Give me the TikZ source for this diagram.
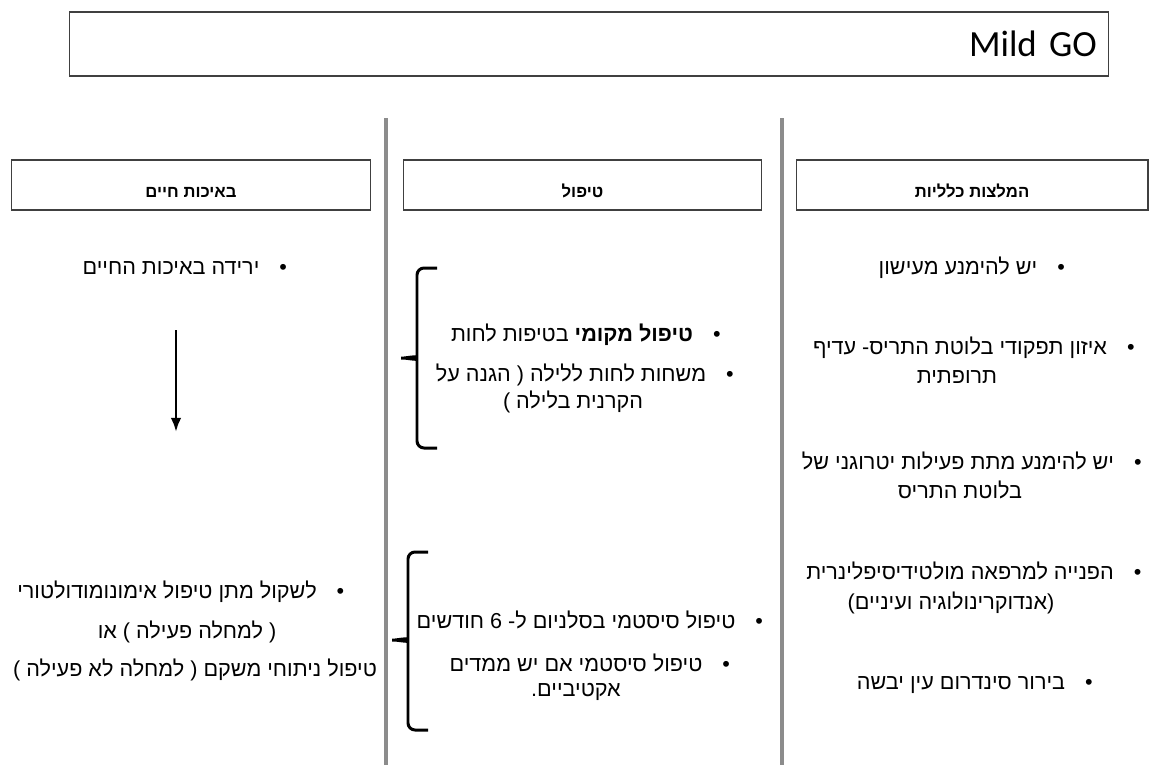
\documentclass[tikz,border=0pt]{standalone}
\usepackage{fontspec}
\setmainfont{Carlito}
\newfontfamily\hebfont[Script=Hebrew]{Liberation Sans}
\TeXXeTstate=1
\usetikzlibrary{positioning,arrows.meta}
\newcommand{\heb}[1]{\beginR #1\endR}

\tikzset{
  headbox/.style={draw=black!75, line width=0.6pt, minimum width=#1, minimum height=1cm,
    inner sep=0pt, text height=15pt, text depth=1pt,
    font=\hebfont\fontsize{9.5}{11}\selectfont\bfseries},
  item/.style={anchor=base, inner sep=0pt, font=\hebfont\fontsize{12.3}{15}\selectfont},
  dot/.style={anchor=base west, inner sep=0pt, font=\hebfont\fontsize{12.3}{15}\selectfont},
  brace/.style={line width=1.7pt, rounded corners=4pt},
  divider/.style={draw=black!45, line width=1.8pt},
}

\begin{document}
\begin{tikzpicture}[x=0.02cm, y=-0.02cm]
\useasboundingbox (0,0) rectangle (1150,765);

% title
\node[draw=black!75, line width=0.6pt, minimum width=20.8cm, minimum height=1.28cm,
  text width=20.32cm, align=right, inner xsep=0.24cm, font=\fontsize{21}{24}\selectfont]
  (title) at (589,44) {Mild GO};

% columns
\draw[divider] (386,118) -- (386,765);
\draw[divider] (782,118) -- (782,765);

\node[headbox=7.2cm] (hleft) at (191,185) {\heb{באיכות חיים}};
\node[headbox=7.18cm] (hmid) at (582.5,185) {\heb{טיפול}};
\node[headbox=7.04cm] (hright) at (972,185) {\heb{המלצות כלליות}};

% general recommendations
\node[item] (r1) at (958,274) {\heb{יש להימנע מעישון}};
\node[right=11pt of r1.base east, dot] (r1d) {•};

\node[item] (r2a) at (960,354) {\heb{איזון תפקודי בלוטת התריס- עדיף}};
\node[item] (r2b) at (957,383) {\heb{תרופתית}};
\node[right=11pt of r2a.base east, dot] (r2d) {•};

\node[item] (r3a) at (958,469) {\heb{יש להימנע מתת פעילות יטרוגני של}};
\node[item] (r3b) at (960,498) {\heb{בלוטת התריס}};
\node[right=11pt of r3a.base east, dot] (r3d) {•};

\node[item] (r4a) at (960,579) {\heb{הפנייה למרפאה מולטידיסיפלינרית}};
\node[item] (r4b) at (951,609) {\heb{(אנדוקרינולוגיה ועיניים)}};
\node[right=11pt of r4a.base east, dot] (r4d) {•};

\node[item] (r5) at (961,689) {\heb{בירור סינדרום עין יבשה}};
\node[right=11pt of r5.base east, dot] (r5d) {•};

% treatment
\draw[brace] (437,268) -- (417,268) -- (417,350)
  .. controls (417,356) and (405,358) .. (397,358)
  .. controls (405,358) and (417,360) .. (417,366) -- (417,448) -- (437,448);

\node[item] (m1) at (572,341) {\heb{{\bfseries טיפול מקומי} בטיפות לחות}};
\node[right=11pt of m1.base east, dot] (m1d) {•};

\node[item] (m2a) at (571,381) {\heb{משחות לחות ללילה ( הגנה על}};
\node[item] (m2b) at (573,408) {\heb{הקרנית בלילה )}};
\node[right=11pt of m2a.base east, dot] (m2d) {•};

\draw[brace] (428,552) -- (408,552) -- (408,632)
  .. controls (408,638) and (396,640) .. (388,640)
  .. controls (396,640) and (408,642) .. (408,648) -- (408,730) -- (428,730);

\node[item] (m3) at (576,628) {\heb{טיפול סיסטמי בסלניום ל- 6 חודשים}};
\node[right=11pt of m3.base east, dot] (m3d) {•};

\node[item] (m4a) at (576,671) {\heb{טיפול סיסטמי אם יש ממדים}};
\node[item] (m4b) at (576,696) {\heb{אקטיביים.}};
\node[right=11pt of m4a.base east, dot] (m4d) {•};

% quality of life
\node[item] (l1) at (171,274) {\heb{ירידה באיכות החיים}};
\node[right=11pt of l1.base east, dot] (l1d) {•};

\coordinate (arrtop) at (176,330);
\coordinate (arrbot) at (176,432);
\draw[line width=1.5pt, -{Latex[length=8pt,width=6pt]}] (arrtop) -- (arrbot);

\node[item] (l2a) at (167,598) {\heb{לשקול מתן טיפול אימונומודולטורי}};
\node[right=11pt of l2a.base east, dot] (l2d) {•};
\node[item] (l2b) at (187,638) {\heb{( למחלה פעילה ) או}};
\node[item] (l2c) at (195,676) {\heb{טיפול ניתוחי משקם ( למחלה לא פעילה )}};
\end{tikzpicture}
\end{document}
